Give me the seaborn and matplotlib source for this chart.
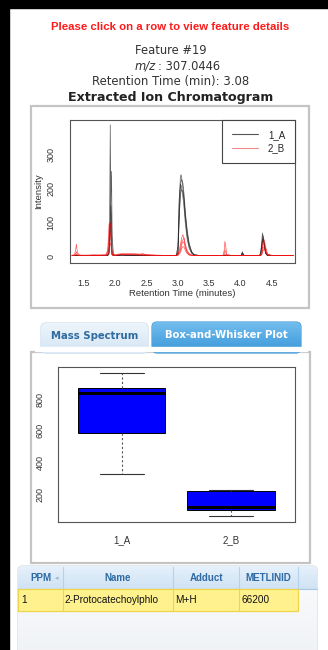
import numpy as np
import pandas as pd
import matplotlib
matplotlib.use("Agg")
import matplotlib.pyplot as plt
import seaborn as sns
from matplotlib.patches import Rectangle, FancyBboxPatch
from matplotlib.lines import Line2D
from matplotlib.colors import LinearSegmentedColormap

sns.set_style("white")
plt.rcParams["font.family"] = ["DejaVu Sans"]

# -----------------------------
# Data
# -----------------------------
feature_id = 19
mz = "307.0446"
rt_min = "3.08"

# chromatogram time grid (minutes)
rt = [1.31, 1.35, 1.37, 1.38, 1.39, 1.41, 1.45, 1.55, 1.65, 1.75,
      1.85, 1.88, 1.90, 1.91, 1.92, 1.93, 1.94, 1.95, 1.97, 2.00,
      2.05, 2.10, 2.20, 2.30, 2.40, 2.43, 2.50, 2.60, 2.70, 2.80,
      2.90, 2.97, 3.00, 3.02, 3.04, 3.05, 3.06, 3.08, 3.10, 3.12,
      3.15, 3.18, 3.22, 3.26, 3.35, 3.45, 3.55, 3.65, 3.72, 3.74,
      3.75, 3.76, 3.78, 3.85, 3.95, 4.01, 4.03, 4.05, 4.10, 4.20,
      4.30, 4.32, 4.34, 4.35, 4.36, 4.38, 4.40, 4.43, 4.50, 4.60,
      4.70, 4.80, 4.84]

# group 1_A samples
a1 = [4, 4, 4, 4, 4, 4, 4, 4, 4, 4,
      4, 5, 20, 120, 386, 150, 30, 8, 4, 4,
      4, 6, 5, 5, 4, 4, 4, 4, 4, 4,
      4, 4, 15, 150, 235, 240, 232, 200, 160, 110,
      60, 30, 12, 5, 4, 4, 4, 4, 4, 4,
      4, 4, 4, 4, 4, 4, 15, 4, 4, 4,
      4, 10, 45, 70, 60, 30, 10, 4, 4, 4,
      4, 4, 4]
a2 = [4, 4, 4, 4, 4, 4, 4, 4, 4, 4,
      4, 4, 10, 40, 90, 180, 250, 60, 8, 4,
      4, 5, 5, 4, 4, 4, 4, 4, 4, 4,
      4, 4, 8, 100, 205, 222, 226, 215, 180, 130,
      75, 40, 15, 6, 4, 4, 4, 4, 4, 4,
      4, 4, 4, 4, 4, 4, 10, 4, 4, 4,
      4, 8, 35, 55, 62, 40, 12, 4, 4, 4,
      4, 4, 4]
a3 = [4, 4, 4, 4, 4, 4, 4, 4, 4, 4,
      4, 4, 8, 30, 80, 150, 110, 20, 5, 4,
      4, 5, 4, 4, 4, 4, 4, 4, 4, 4,
      4, 4, 30, 170, 212, 210, 200, 175, 140, 95,
      50, 25, 10, 5, 4, 4, 4, 4, 4, 4,
      4, 4, 4, 4, 4, 4, 12, 5, 4, 4,
      4, 6, 30, 50, 55, 35, 10, 4, 4, 4,
      4, 4, 4]
a4 = [4, 4, 4, 4, 4, 4, 4, 4, 4, 4,
      4, 5, 30, 90, 100, 60, 20, 6, 4, 4,
      4, 5, 4, 4, 4, 4, 4, 4, 4, 4,
      4, 4, 10, 110, 180, 192, 196, 190, 165, 120,
      70, 35, 14, 6, 4, 4, 4, 4, 4, 4,
      4, 4, 4, 4, 4, 4, 8, 4, 4, 4,
      4, 5, 25, 45, 50, 40, 15, 5, 4, 4,
      4, 4, 4]

# group 2_B samples
b1 = [5, 6, 25, 37, 20, 8, 5, 5, 6, 5,
      6, 20, 95, 100, 98, 100, 40, 10, 6, 5,
      8, 9, 8, 9, 7, 10, 6, 5, 5, 4,
      4, 4, 8, 20, 35, 45, 55, 65, 50, 30,
      15, 8, 5, 4, 4, 4, 4, 4, 4, 20,
      45, 35, 8, 4, 4, 4, 4, 4, 4, 4,
      4, 4, 15, 30, 45, 50, 30, 8, 4, 4,
      4, 4, 4]
b2 = [4, 5, 10, 15, 10, 5, 4, 4, 5, 5,
      5, 15, 60, 90, 95, 85, 30, 8, 5, 5,
      7, 8, 9, 8, 8, 7, 6, 5, 4, 4,
      4, 4, 6, 15, 25, 35, 45, 50, 55, 35,
      18, 9, 5, 4, 4, 4, 4, 4, 4, 8,
      20, 15, 5, 4, 4, 4, 4, 4, 4, 4,
      4, 4, 10, 25, 35, 40, 25, 8, 4, 4,
      4, 4, 4]
b3 = [4, 4, 6, 8, 6, 4, 4, 4, 4, 5,
      5, 8, 30, 60, 70, 55, 20, 6, 5, 5,
      6, 7, 7, 7, 6, 6, 5, 5, 4, 4,
      4, 4, 5, 10, 18, 25, 35, 45, 40, 25,
      12, 6, 4, 4, 4, 4, 4, 4, 4, 4,
      8, 6, 4, 4, 4, 4, 4, 4, 4, 4,
      4, 4, 8, 18, 25, 30, 20, 6, 4, 4,
      4, 4, 4]
b4 = [4, 4, 5, 6, 5, 4, 4, 4, 4, 4,
      4, 6, 15, 30, 40, 35, 12, 5, 4, 4,
      5, 6, 6, 6, 5, 5, 5, 4, 4, 4,
      4, 4, 4, 8, 12, 18, 25, 30, 28, 18,
      9, 5, 4, 4, 4, 4, 4, 4, 4, 4,
      5, 4, 4, 4, 4, 4, 4, 4, 4, 4,
      4, 4, 6, 12, 18, 22, 15, 5, 4, 4,
      4, 4, 4]

traces = [("A1", "1_A", a1), ("A2", "1_A", a2), ("A3", "1_A", a3), ("A4", "1_A", a4),
          ("B1", "2_B", b1), ("B2", "2_B", b2), ("B3", "2_B", b3), ("B4", "2_B", b4)]

# box-and-whisker per-sample intensities
box_groups = ["1_A", "2_B"]
box_1A = [331, 588, 842, 870, 965]
box_2B = [64, 99, 120, 221, 229]

# table
tbl_cols = ["PPM", "Name", "Adduct", "METLINID"]
tbl_row = ["1", "2-Protocatechoylphlo", "M+H", "66200"]

# -----------------------------
# Layout helpers (pixel coordinates)
# -----------------------------
W, H = 328, 650
fig = plt.figure(figsize=(W / 100, H / 100), dpi=100)
fig.patch.set_facecolor("white")


def px(x0, y0, x1, y1):
    return [x0 / W, 1 - y1 / H, (x1 - x0) / W, (y1 - y0) / H]


bg = fig.add_axes([0, 0, 1, 1], zorder=0)
bg.set_axis_off()


def grad(x0, y0, x1, y1, top, bot, clip=None, z=1):
    cmap = LinearSegmentedColormap.from_list("g", [top, bot])
    im = bg.imshow(np.linspace(0, 1, 64).reshape(-1, 1), cmap=cmap,
                   extent=(x0, x1, y1, y0), aspect="auto", zorder=z,
                   interpolation="bilinear")
    if clip is not None:
        im.set_clip_path(clip)
    return im


# black screen edges
bg.add_patch(Rectangle((0, 0), W, 8, color="black", zorder=5))
bg.add_patch(Rectangle((0, 0), 9, H, color="black", zorder=5))

# header texts
bg.text(170, 27, "Please click on a row to view feature details", color="#ff1a1a",
        fontsize=8.2, fontweight="bold", ha="center", va="center",
        family="Liberation Sans")
bg.text(170.5, 51, f"Feature #{feature_id}", color="#333333", fontsize=8.3,
        ha="center", va="center")
bg.text(155.5, 66, "m/z", color="#333333", fontsize=8.3, style="italic",
        ha="right", va="center")
bg.text(158.5, 66, f": {mz}", color="#333333", fontsize=8.3, ha="left", va="center")
bg.text(170.5, 81, f"Retention Time (min): {rt_min}", color="#333333",
        fontsize=8.4, ha="center", va="center")
bg.text(170.5, 97, "Extracted Ion Chromatogram", color="#222222", fontsize=9.1,
        fontweight="bold", ha="center", va="center")

# panel borders
bg.add_patch(Rectangle((31, 106), 278, 202, fill=False, ec="#c4c4c4", lw=1.6, zorder=2))
bg.add_patch(Rectangle((31, 352), 279, 211, fill=False, ec="#c4c4c4", lw=1.6, zorder=2))

# tabs
tab1 = FancyBboxPatch((41, 323), 107, 30, boxstyle="round,pad=0,rounding_size=5",
                      fc="#dbe9f5", ec="#c2d9ec", lw=0.8, zorder=2)
bg.add_patch(tab1)
grad(41, 323, 148, 353, "#eef5fb", "#d3e5f4", clip=tab1, z=2)
tab2 = FancyBboxPatch((152, 322), 149, 31, boxstyle="round,pad=0,rounding_size=5",
                      fc="#4aa3df", ec="#3b93d2", lw=0.8, zorder=2)
bg.add_patch(tab2)
grad(152, 322, 301, 353, "#72bdee", "#3a97d9", clip=tab2, z=2)
bg.add_patch(Rectangle((35, 347), 272, 4, color="white", zorder=3))
bg.text(94.5, 336, "Mass Spectrum", color="#2f6b9e", fontsize=7.3,
        fontweight="bold", ha="center", va="center", zorder=4)
bg.text(226.5, 335.5, "Box-and-Whisker Plot", color="white", fontsize=7.3,
        fontweight="bold", ha="center", va="center", zorder=4)

# table panel
tp = FancyBboxPatch((18, 566), 299, 100, boxstyle="round,pad=0,rounding_size=4",
                    fc="#f4f6f9", ec="#cdd6df", lw=0.8, zorder=2)
bg.add_patch(tp)
grad(18, 566, 317, 666, "#fbfcfd", "#eef1f5", clip=tp, z=2)
h_im = grad(18, 566, 317, 589, "#e6f1fb", "#cfe2f4", z=3)
h_im.set_clip_path(tp)
bg.plot([18, 317], [589, 589], color="#a8c7e5", lw=0.8, zorder=4)
for xs in [63, 173, 239, 298]:
    bg.plot([xs, xs], [567, 589], color="#b7d1ea", lw=0.8, zorder=4)

bg.add_patch(Rectangle((18, 589), 280, 22, fc="#fff28e", ec="#f0d548", lw=0.9, zorder=4))
for xs in [63, 173, 239]:
    bg.plot([xs, xs], [589, 611], color="#f0d548", lw=0.8, zorder=5)

hdr_x = [40.5, 118, 206, 268]
for x, lab in zip(hdr_x, tbl_cols):
    bg.text(x, 578, lab, color="#2e6aa3", fontsize=7, fontweight="bold",
            ha="center", va="center", zorder=6, family="Liberation Sans")
bg.text(57, 578, "\u25c2", color="#9bb7d3", fontsize=5, ha="center", va="center", zorder=6)
cell_x = [21, 64, 175, 241]
for x, val in zip(cell_x, tbl_row):
    bg.text(x, 600, val, color="#111111", fontsize=7.2, ha="left", va="center",
            zorder=6, family="Liberation Sans")

bg.set_xlim(0, W)
bg.set_ylim(H, 0)

# -----------------------------
# Chromatogram
# -----------------------------
rows = []
for name, grp, vals in traces:
    for t, v in zip(rt, vals):
        rows.append({"time": t, "intensity": v, "sample": name, "group": grp})
eic = pd.DataFrame(rows)

tick_font = dict(family="Liberation Sans", size=6.5)
ax1 = fig.add_axes(px(70, 120, 295, 263), zorder=3)
sns.lineplot(data=eic, x="time", y="intensity", hue="group", units="sample",
             estimator=None, hue_order=["1_A", "2_B"],
             palette={"1_A": "#1a1a1a", "2_B": "#ff1010"}, lw=0.5, alpha=0.7,
             legend=False, ax=ax1)
ax1.set_xlim(1.277, 4.87)
ax1.set_ylim(-18, 400)
ax1.set_xticks([1.5, 2.0, 2.5, 3.0, 3.5, 4.0, 4.5])
ax1.set_xticklabels(["1.5", "2.0", "2.5", "3.0", "3.5", "4.0", "4.5"], fontdict=tick_font)
ax1.set_yticks([0, 100, 200, 300])
ax1.set_yticklabels(["0", "100", "200", "300"], fontdict=tick_font, rotation=90, va="center")
ax1.set_xlabel("Retention Time (minutes)", fontdict=dict(family="Liberation Sans", size=6.8),
               labelpad=1, color="#333")
ax1.set_ylabel("Intensity", fontdict=dict(family="Liberation Sans", size=6.8),
               labelpad=2, color="#333")
ax1.tick_params(length=3.6, width=0.7, color="#444", labelcolor="#333")
ax1.tick_params(axis="y", pad=7)
ax1.tick_params(axis="x", pad=8)
for s in ax1.spines.values():
    s.set_color("#555555")
    s.set_linewidth(0.8)

handles = [Line2D([], [], color="#555555", lw=0.8),
           Line2D([], [], color="#f08a8a", lw=0.8)]
leg = ax1.legend(handles, ["1_A", "2_B"], loc="upper right", borderaxespad=0,
                 fancybox=False, edgecolor="#444", framealpha=1,
                 prop=dict(family="Liberation Sans", size=7),
                 handlelength=2.7, borderpad=1.0, labelspacing=0.35, handletextpad=1.0)
leg.get_frame().set_linewidth(0.8)

# -----------------------------
# Box-and-whisker
# -----------------------------
box_df = pd.DataFrame({
    "group": [box_groups[0]] * len(box_1A) + [box_groups[1]] * len(box_2B),
    "value": box_1A + box_2B,
})
ax2 = fig.add_axes(px(58, 367, 295, 522), zorder=3)
sns.boxplot(data=box_df, x="group", y="value", color="blue", saturation=1,
            width=0.8, linecolor="black", linewidth=0.7, showfliers=False,
            whiskerprops=dict(linestyle=(0, (2, 2)), color="#555555", lw=0.8),
            capprops=dict(color="#333333", lw=0.8),
            medianprops=dict(color="black", lw=2.2),
            ax=ax2)
ax2.set_xlim(-0.583, 1.585)
ax2.set_ylim(25, 1003)
ax2.set_yticks([200, 400, 600, 800])
ax2.set_yticklabels(["200", "400", "600", "800"], fontdict=tick_font, rotation=90, va="center")
ax2.set_xticks([0, 1])
ax2.set_xticklabels(box_groups, fontdict=dict(family="Liberation Sans", size=7))
ax2.set_xlabel("")
ax2.set_ylabel("")
ax2.tick_params(length=3.6, width=0.7, color="#444", labelcolor="#333")
ax2.tick_params(axis="y", pad=6)
ax2.tick_params(axis="x", pad=6)
for s in ax2.spines.values():
    s.set_color("#555555")
    s.set_linewidth(0.8)

fig.savefig("out.png", dpi=100)
